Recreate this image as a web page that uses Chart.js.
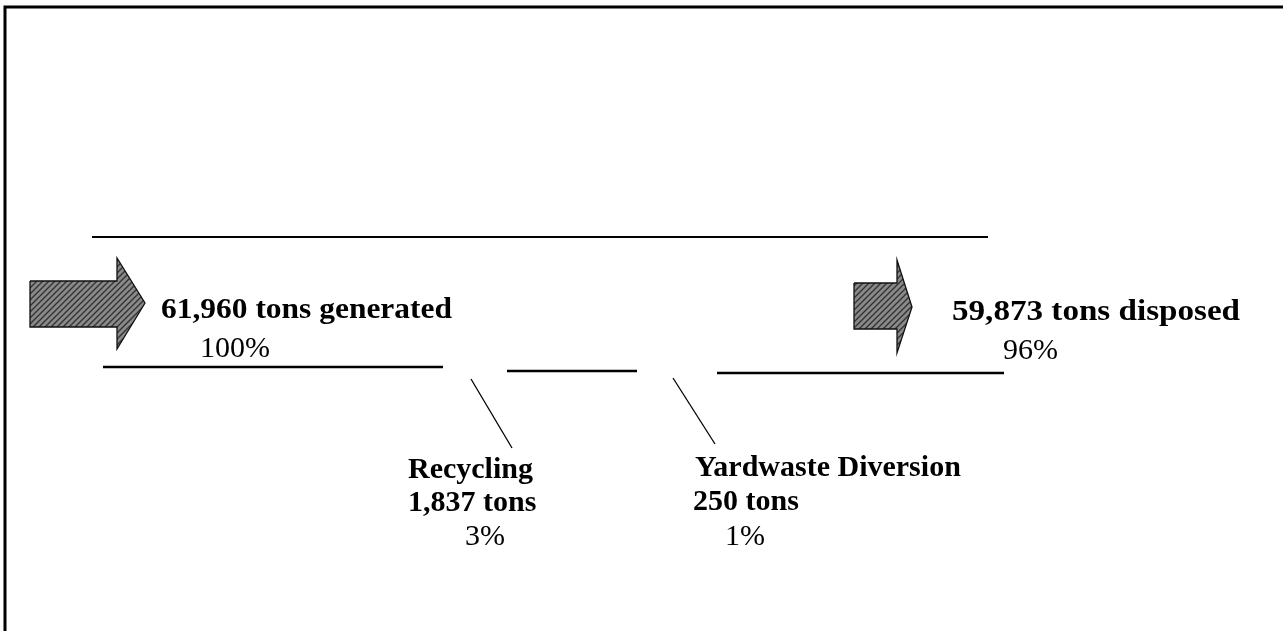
<!DOCTYPE html>
<html lang="en">
<head>
<meta charset="UTF-8">
<title>Solid Waste Flow</title>
<script src="https://cdn.jsdelivr.net/npm/chart.js"></script>
<style>
    html, body { margin: 0; padding: 0; background: #fff; }
    .wrap { position: relative; width: 1283px; height: 631px; }
</style>
</head>
<body>
<div class="wrap"><canvas id="flowChart"></canvas></div>
<script>
    // flow data
    const flowNames = ['tons generated', 'Recycling', 'Yardwaste Diversion', 'tons disposed'];
    const flowTons = [61960, 1837, 250, 59873];
    const flowPercent = [100, 3, 1, 96];

    // diagram geometry (page pixels, mapped through the x / y scales)
    const frameLine = [[5, 631], [5, 7], [1283, 7]];
    const rules = [
        [[92, 237], [988, 237]],
        [[103, 367], [443, 367]],
        [[507, 371], [637, 371]],
        [[717, 373], [1004, 373]]
    ];
    const leaders = [
        [[471, 379], [512, 448]],
        [[673, 378], [715, 444]]
    ];
    const arrowBoxes = [
        { x0: 30, x1: 117, x2: 145, top: 281, bot: 327, headTop: 258, headBot: 349, tipY: 303 },
        { x0: 854, x1: 897, x2: 912, top: 283, bot: 329, headTop: 260, headBot: 353, tipY: 307 }
    ];

    const fmt = v => v.toLocaleString('en-US');

    // text placement
    const textItems = [
        { text: fmt(flowTons[0]) + ' ' + flowNames[0], bold: true, x: 161, y: 318, width: 291 },
        { text: flowPercent[0] + '%', x: 200, y: 357 },
        { text: fmt(flowTons[3]) + ' ' + flowNames[3], bold: true, x: 952, y: 320, width: 288 },
        { text: flowPercent[3] + '%', x: 1003, y: 359 },
        { text: flowNames[1], bold: true, x: 408, y: 478 },
        { text: fmt(flowTons[1]) + ' tons', bold: true, x: 408, y: 511 },
        { text: flowPercent[1] + '%', x: 465, y: 545 },
        { text: flowNames[2], bold: true, x: 695, y: 476 },
        { text: fmt(flowTons[2]) + ' tons', bold: true, x: 693, y: 510 },
        { text: flowPercent[2] + '%', x: 725, y: 545 }
    ];

    // hatched grey fill like the scanned arrows
    function makeHatch() {
        const c = document.createElement('canvas');
        c.width = 6; c.height = 6;
        const g = c.getContext('2d');
        g.fillStyle = '#8a8a8a';
        g.fillRect(0, 0, 6, 6);
        g.strokeStyle = '#333';
        g.lineWidth = 1.4;
        g.beginPath();
        g.moveTo(0, 6); g.lineTo(6, 0);
        g.moveTo(-3, 3); g.lineTo(3, -3);
        g.moveTo(3, 9); g.lineTo(9, 3);
        g.stroke();
        return g.createPattern(c, 'repeat');
    }

    const toPts = arr => arr.map(p => ({ x: p[0], y: p[1] }));

    function arrowPts(a) {
        return toPts([
            [a.x0, a.top], [a.x1, a.top], [a.x1, a.headTop], [a.x2, a.tipY],
            [a.x1, a.headBot], [a.x1, a.bot], [a.x0, a.bot], [a.x0, a.top]
        ]);
    }

    const lineSet = (pts, width) => ({
        type: 'scatter',
        data: toPts(pts),
        showLine: true,
        borderColor: '#000',
        borderWidth: width,
        pointRadius: 0,
        fill: false,
        tension: 0
    });

    const hatch = makeHatch();
    const datasets = [lineSet(frameLine, 3)];
    rules.forEach((r, i) => datasets.push(lineSet(r, i === 0 ? 2 : 2.5)));
    leaders.forEach(l => datasets.push(lineSet(l, 1.3)));
    arrowBoxes.forEach(a => datasets.push({
        type: 'scatter',
        data: arrowPts(a),
        showLine: true,
        borderColor: '#111',
        borderWidth: 1.3,
        backgroundColor: hatch,
        pointRadius: 0,
        fill: 'shape',
        tension: 0
    }));

    const textPlugin = {
        id: 'flowText',
        afterDatasetsDraw(chart) {
            const { ctx, scales: { x, y } } = chart;
            textItems.forEach(t => {
                ctx.save();
                ctx.font = (t.bold ? 'bold ' : '') + '30px "Liberation Serif", "Times New Roman", serif';
                ctx.fillStyle = '#000';
                ctx.textBaseline = 'alphabetic';
                ctx.textAlign = 'left';
                const w = ctx.measureText(t.text).width;
                const sx = t.width ? t.width / w : 1;
                ctx.translate(x.getPixelForValue(t.x), y.getPixelForValue(t.y));
                ctx.scale(sx, 1);
                ctx.fillText(t.text, 0, 0);
                ctx.restore();
            });
        }
    };

    new Chart(document.getElementById('flowChart'), {
        type: 'scatter',
        data: { datasets: datasets },
        options: {
            responsive: true,
            maintainAspectRatio: false,
            animation: false,
            events: [],
            layout: { padding: 0 },
            plugins: { legend: { display: false }, tooltip: { enabled: false } },
            scales: {
                x: { type: 'linear', min: 0, max: 1283, display: false },
                y: { type: 'linear', min: 0, max: 631, reverse: true, display: false }
            }
        },
        plugins: [textPlugin]
    });
</script>
</body>
</html>
